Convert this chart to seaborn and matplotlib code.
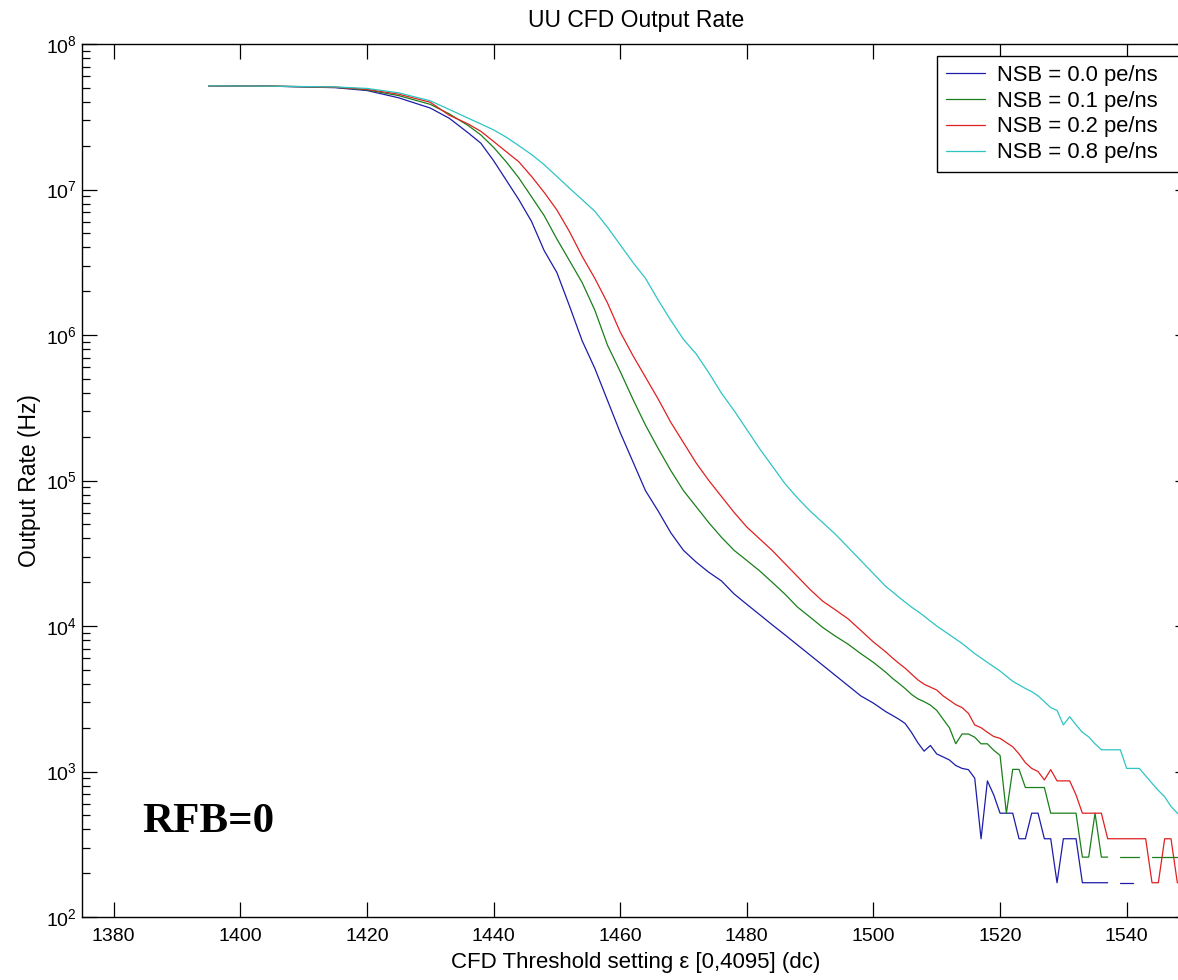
import numpy as np
import pandas as pd
import seaborn as sns
import matplotlib
matplotlib.use('Agg')
import matplotlib.pyplot as plt
from matplotlib.ticker import LogFormatterMathtext, NullFormatter

# threshold settings (dc): coarse in the smooth part, every dc in the noisy tail
thr_head = [1395, 1405, 1415, 1420, 1425, 1430, 1433, 1436, 1438, 1440,
            1442, 1444, 1446, 1448, 1450, 1452, 1454, 1456, 1458, 1460,
            1462, 1464, 1466, 1468, 1470, 1472, 1474, 1476, 1478, 1480,
            1482, 1484, 1486, 1488, 1490, 1492, 1494, 1496, 1498, 1500, 1502]
thr_tail = list(range(1503, 1551))

nan = np.nan

# output rate (Hz), NSB = 0.0 pe/ns
rate_00_head = [5.16e7, 5.13e7, 5.01e7, 4.79e7, 4.27e7, 3.63e7, 3.09e7, 2.45e7, 2.08e7, 1.58e7,
                1.16e7, 8.51e6, 6.03e6, 3.80e6, 2.69e6, 1.58e6, 9.12e5, 5.89e5, 3.55e5, 2.14e5,
                1.35e5, 8.51e4, 6.17e4, 4.37e4, 3.31e4, 2.75e4, 2.34e4, 2.04e4, 1.66e4, 1.41e4,
                1.20e4, 1.02e4, 8710, 7410, 6310, 5370, 4570, 3890, 3310, 2950, 2570]
rate_00_tail = [2430, 2290, 2140, 1860, 1580, 1380, 1510, 1320, 1260, 1200,
                1100, 1050, 1030, 900, 345, 862, 690, 517, 517, 517,
                345, 345, 517, 517, 345, 345, 172, 345, 345, 345,
                172, 172, 172, 172, 172, nan, 172, 172, 172, nan,
                nan, nan, nan, nan, nan, nan, nan, nan]

# NSB = 0.1 pe/ns
rate_01_head = [5.16e7, 5.13e7, 5.04e7, 4.84e7, 4.42e7, 3.85e7, 3.31e7, 2.75e7, 2.37e7, 1.95e7,
                1.55e7, 1.20e7, 8.91e6, 6.61e6, 4.57e6, 3.24e6, 2.29e6, 1.48e6, 8.51e5, 5.62e5,
                3.63e5, 2.40e5, 1.66e5, 1.17e5, 8.51e4, 6.61e4, 5.13e4, 4.07e4, 3.31e4, 2.82e4,
                2.40e4, 2.00e4, 1.66e4, 1.35e4, 1.15e4, 9770, 8510, 7500, 6460, 5620, 4790]
rate_01_tail = [4370, 4040, 3720, 3390, 3160, 3020, 2860, 2630, 2290, 2000,
                1552, 1810, 1810, 1720, 1550, 1550, 1400, 1290, 517, 1034,
                1034, 776, 776, 776, 776, 517, 517, 517, 517, 517,
                258, 258, 517, 258, 258, nan, 258, 258, 258, 258,
                nan, 258, 258, 258, 258, 258, 258, 258]

# NSB = 0.2 pe/ns
rate_02_head = [5.16e7, 5.13e7, 5.05e7, 4.88e7, 4.52e7, 3.98e7, 3.24e7, 2.82e7, 2.51e7, 2.14e7,
                1.82e7, 1.55e7, 1.23e7, 9.55e6, 7.24e6, 5.13e6, 3.47e6, 2.45e6, 1.66e6, 1.05e6,
                7.24e5, 5.13e5, 3.63e5, 2.51e5, 1.82e5, 1.32e5, 1.00e5, 7.76e4, 6.03e4, 4.79e4,
                3.98e4, 3.31e4, 2.69e4, 2.19e4, 1.78e4, 1.48e4, 1.29e4, 1.12e4, 9330, 7760, 6610]
rate_02_tail = [6030, 5550, 5130, 4680, 4270, 3980, 3800, 3630, 3310, 3090,
                2880, 2750, 2510, 2090, 2000, 1860, 1740, 1690, 1580, 1480,
                1320, 1150, 1050, 1000, 875, 1030, 862, 862, 862, 690,
                517, 517, 517, 517, 345, 345, 345, 345, 345, 345,
                345, 172, 172, 345, 345, 172, 172, 172]

# NSB = 0.8 pe/ns
rate_08_head = [5.16e7, 5.13e7, 5.07e7, 4.95e7, 4.62e7, 4.07e7, 3.55e7, 3.09e7, 2.82e7, 2.57e7,
                2.29e7, 2.00e7, 1.74e7, 1.48e7, 1.23e7, 1.02e7, 8.51e6, 7.08e6, 5.50e6, 4.17e6,
                3.16e6, 2.45e6, 1.74e6, 1.26e6, 9.33e5, 7.41e5, 5.50e5, 3.98e5, 3.02e5, 2.24e5,
                1.66e5, 1.26e5, 9.55e4, 7.59e4, 6.17e4, 5.13e4, 4.27e4, 3.47e4, 2.82e4, 2.29e4, 1.86e4]
rate_08_tail = [17200, 15800, 14600, 13500, 12600, 11700, 10800, 10000, 9330, 8710,
                8130, 7590, 7000, 6460, 6030, 5620, 5250, 4900, 4520, 4170,
                3940, 3720, 3540, 3310, 3020, 2750, 2630, 2090, 2380, 2090,
                1860, 1730, 1550, 1410, 1410, 1410, 1410, 1050, 1050, 1050,
                933, 830, 741, 671, 575, 517, 479, 447]

labels = ['NSB = 0.0 pe/ns', 'NSB = 0.1 pe/ns', 'NSB = 0.2 pe/ns', 'NSB = 0.8 pe/ns']
colors = ['#1c1ca8', '#1a7f1a', '#e02020', '#2ec4c4']
x_ticks = [1380, 1400, 1420, 1440, 1460, 1480, 1500, 1520, 1540]
y_decades = [1e2, 1e3, 1e4, 1e5, 1e6, 1e7, 1e8]

sns.set_style('ticks')
plt.rcParams['font.family'] = ['Liberation Sans', 'DejaVu Sans']
plt.rcParams['text.color'] = 'black'
plt.rcParams['axes.labelcolor'] = 'black'
plt.rcParams['xtick.color'] = 'black'
plt.rcParams['ytick.color'] = 'black'

fig = plt.figure(figsize=(11.78, 9.8), dpi=100)
ax = fig.add_axes([82 / 1178, 63 / 980, 1108 / 1178, 873 / 980])

thr = thr_head + thr_tail
series = [rate_00_head + rate_00_tail, rate_01_head + rate_01_tail,
          rate_02_head + rate_02_tail, rate_08_head + rate_08_tail]

for rates, lab, col in zip(series, labels, colors):
    df = pd.DataFrame({'thr': thr, 'rate': rates})
    # zero counts show up as gaps on the log axis
    seg = df['rate'].isna().cumsum()
    first = True
    for _, part in df.dropna().groupby(seg[df['rate'].notna()]):
        sns.lineplot(data=part, x='thr', y='rate', ax=ax, color=col, lw=0.9,
                     estimator=None, sort=False, label=lab if first else None,
                     legend=False)
        first = False

ax.set_yscale('log')
ax.set_xlim(1375, 1550)
ax.set_ylim(1e2, 1e8)
ax.set_xticks(x_ticks)
ax.set_yticks(y_decades)
ax.set_yticks([m * d for d in y_decades[:-1] for m in range(2, 10)], minor=True)
ax.yaxis.set_major_formatter(LogFormatterMathtext())
ax.yaxis.set_minor_formatter(NullFormatter())

ax.tick_params(which='both', direction='in', top=True, right=True, labelsize=14,
               color='black', labelcolor='black', width=0.9)
ax.tick_params(which='major', length=11)
ax.tick_params(which='minor', length=6)
ax.tick_params(axis='x', pad=8)
for s in ax.spines.values():
    s.set_linewidth(1.0)
    s.set_color('black')

ax.set_title('UU CFD Output Rate', fontsize=16.5, pad=12)
ax.set_xlabel('CFD Threshold setting ε [0,4095] (dc)', fontsize=16, labelpad=5)
ax.set_ylabel('Output Rate (Hz)', fontsize=16.5, labelpad=4)

ax.text(1384.5, 384, 'RFB=0', family=['Liberation Serif', 'DejaVu Serif'],
        fontsize=31, fontweight='bold', va='baseline', ha='left', color='black')

handles, labs = ax.get_legend_handles_labels()
leg = ax.legend(handles, labs, loc='upper left',
                bbox_to_anchor=(937 / 1178, 0, 260 / 1178, 1 - 56 / 980),
                bbox_transform=fig.transFigure, mode='expand', fontsize=15.8,
                frameon=True, fancybox=False, framealpha=1, edgecolor='black',
                handlelength=1.8, borderaxespad=0, labelspacing=0.22,
                borderpad=0.4, handletextpad=0.55)
leg.get_frame().set_linewidth(1.0)

fig.savefig('out.png', dpi=100)
